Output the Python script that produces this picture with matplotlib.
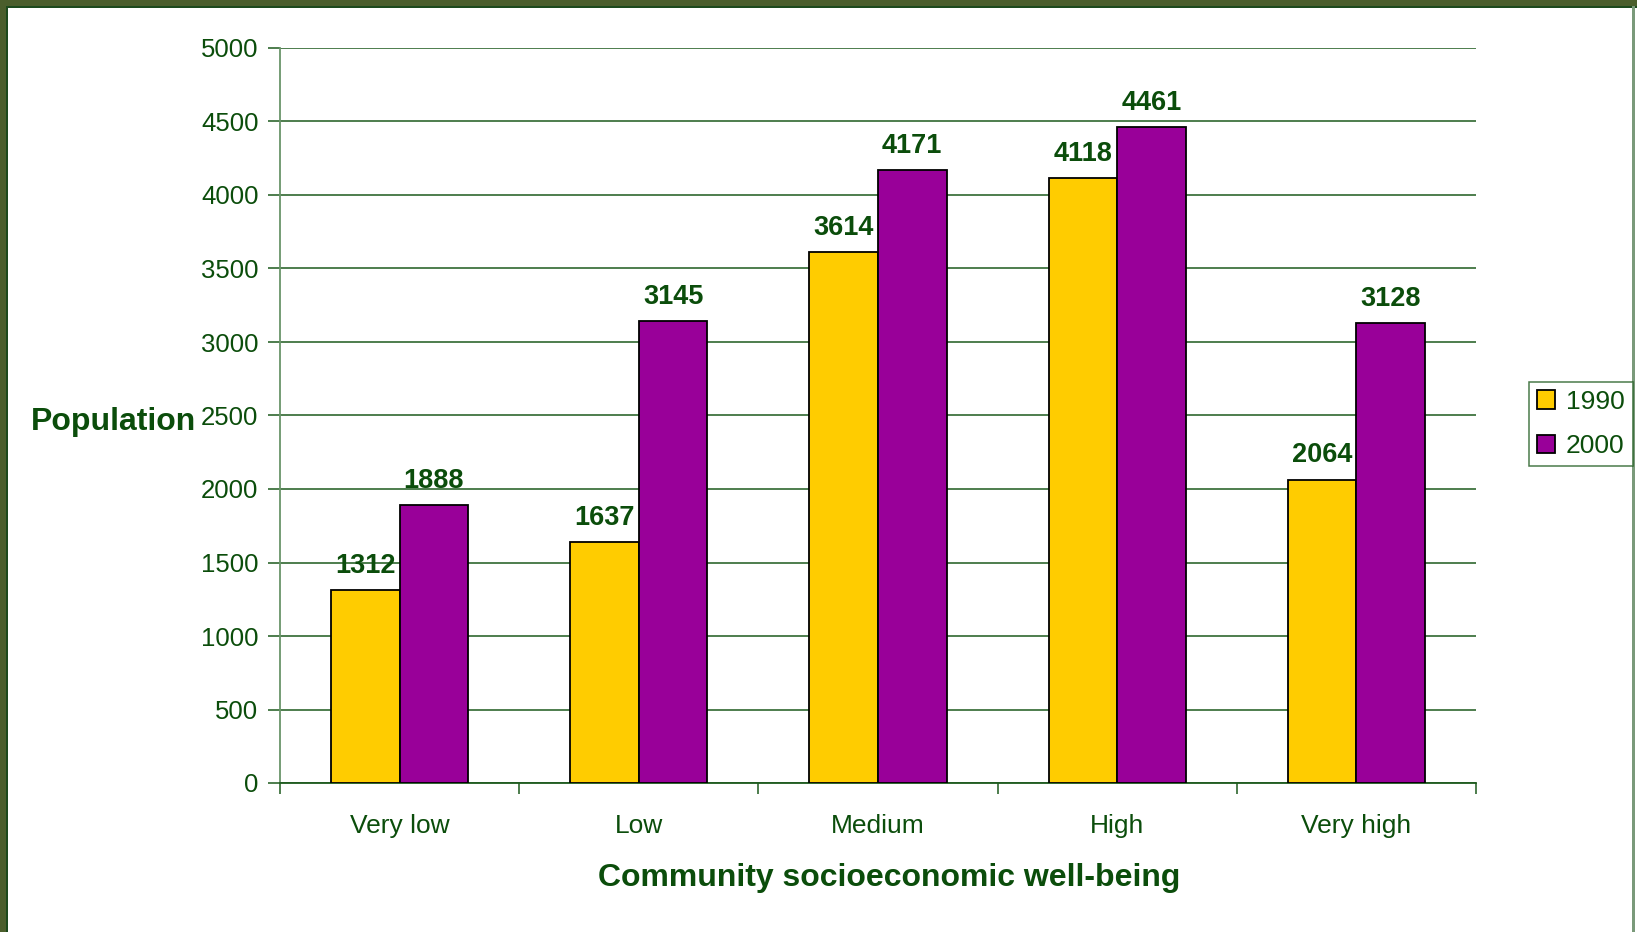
import matplotlib
matplotlib.use("Agg")
import matplotlib.pyplot as plt
from matplotlib.patches import Rectangle
import numpy as np

plt.rcParams['font.family'] = ['Liberation Sans', 'DejaVu Sans']

categories = ["Very low", "Low", "Medium", "High", "Very high"]
series_names = ["1990", "2000"]
values_1990 = [1312, 1637, 3614, 4118, 2064]
values_2000 = [1888, 3145, 4171, 4461, 3128]
y_ticks = [0, 500, 1000, 1500, 2000, 2500, 3000, 3500, 4000, 4500, 5000]

TEXT = "#0b4d0b"
GRID = "#1d5a1d"
GOLD = "#FFCC00"
PURPLE = "#990099"

W, H = 1637, 932
fig = plt.figure(figsize=(W / 100, H / 100), dpi=100)
fig.patch.set_facecolor("white")

# slide frame: olive band on top and left, thin rule on the right
fig.add_artist(Rectangle((0, 1 - 6 / H), 1, 6 / H, transform=fig.transFigure,
                         facecolor="#4b5e2c", edgecolor="none", zorder=0))
fig.add_artist(Rectangle((0, 1 - 8 / H), 1, 2 / H, transform=fig.transFigure,
                         facecolor="#1d4a1d", edgecolor="none", zorder=0))
fig.add_artist(Rectangle((0, 0), 6 / W, 1, transform=fig.transFigure,
                         facecolor="#4b5e2c", edgecolor="none", zorder=0))
fig.add_artist(Rectangle((6 / W, 0), 2 / W, 1 - 6 / H, transform=fig.transFigure,
                         facecolor="#1d4a1d", edgecolor="none", zorder=0))
fig.add_artist(Rectangle((1632 / W, 0), 3 / W, 1 - 6 / H, transform=fig.transFigure,
                         facecolor="#7a9a7a", edgecolor="none", zorder=0))

left, right, top, bottom = 280, 1476, 48, 783
ax = fig.add_axes([left / W, 1 - bottom / H, (right - left) / W, (bottom - top) / H])

x = np.arange(len(categories))
bw = 0.2865
bars1 = ax.bar(x - bw / 2, values_1990, bw, color=GOLD, edgecolor="black",
               linewidth=1.3, label=series_names[0], zorder=3)
bars2 = ax.bar(x + bw / 2, values_2000, bw, color=PURPLE, edgecolor="black",
               linewidth=1.3, label=series_names[1], zorder=3)

for bars, vals in ((bars1, values_1990), (bars2, values_2000)):
    for b, v in zip(bars, vals):
        ax.annotate(f"{v}", (b.get_x() + b.get_width() / 2, v),
                    xytext=(0, 8), textcoords="offset points",
                    ha="center", va="bottom", fontsize=19.5, fontweight="bold",
                    color=TEXT)

ax.set_xlim(-0.5, len(categories) - 0.5)
ax.set_ylim(0, 5000)
ax.set_yticks(y_ticks)
ax.set_yticklabels([str(t) for t in y_ticks])
ax.yaxis.grid(True, color=GRID, linewidth=1.1, zorder=0)
ax.set_axisbelow(True)

# category labels centred, tick marks on category boundaries
ax.set_xticks(x)
ax.set_xticklabels(categories)
ax.set_xticks(np.arange(len(categories) + 1) - 0.5, minor=True)
ax.tick_params(axis="x", which="major", length=0, pad=22, labelsize=19,
               labelcolor=TEXT)
ax.tick_params(axis="x", which="minor", length=8, width=1.1, color=GRID,
               direction="out")
ax.tick_params(axis="y", length=9, width=1.1, color=GRID, labelsize=18.5,
               labelcolor=TEXT, pad=6.5)

for s in ("top", "right"):
    ax.spines[s].set_visible(False)
ax.spines["left"].set_color("#6a946a")
ax.spines["left"].set_linewidth(1.3)
ax.spines["bottom"].set_color(GRID)
ax.spines["bottom"].set_linewidth(1.3)

fig.text(31 / W, 1 - 422 / H, "Population", ha="left", va="center",
         fontsize=23, fontweight="bold", color=TEXT)
fig.text(889 / W, 1 - 878 / H, "Community socioeconomic well-being",
         ha="center", va="center", fontsize=23, fontweight="bold", color=TEXT)

leg = fig.legend(handles=[bars1, bars2], labels=series_names,
                 loc="upper left", bbox_to_anchor=(1529 / W, 1 - 382 / H),
                 frameon=True, fancybox=False, fontsize=19,
                 handlelength=0.7, handleheight=0.7, handletextpad=0.4,
                 borderpad=0.3, labelspacing=0.78, borderaxespad=0)
leg.get_frame().set_edgecolor(GRID)
leg.get_frame().set_linewidth(1.1)
for t in leg.get_texts():
    t.set_color(TEXT)

fig.savefig("out.png", dpi=100, facecolor="white")
